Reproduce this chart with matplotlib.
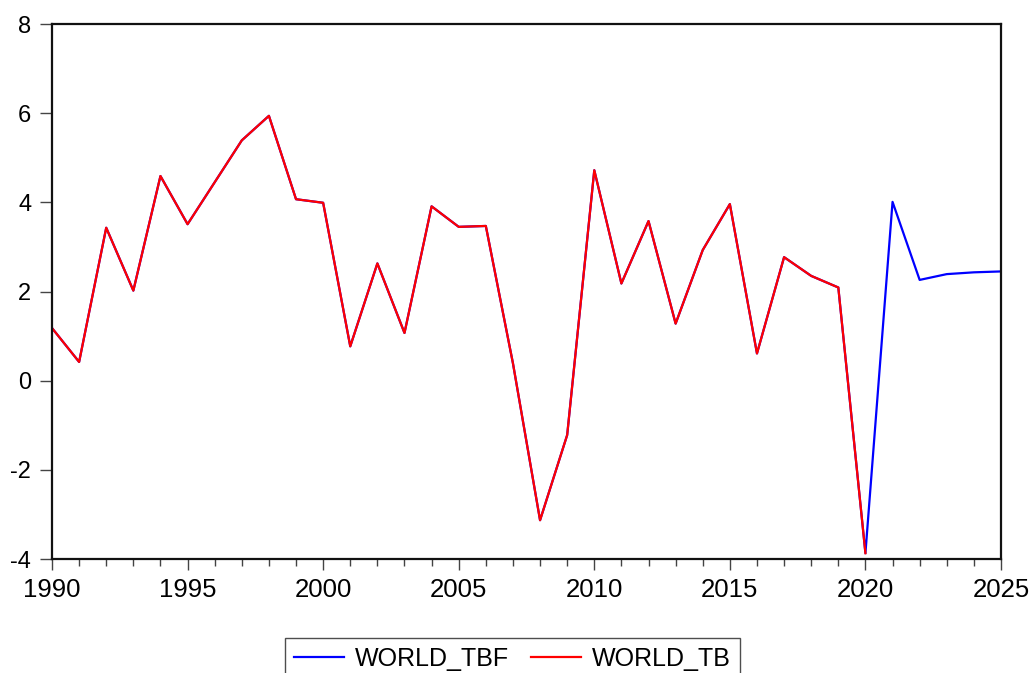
import numpy as np
import matplotlib.pyplot as plt
from matplotlib.ticker import MultipleLocator

plt.rcParams["font.family"] = ["Liberation Sans", "DejaVu Sans"]
plt.rcParams["axes.unicode_minus"] = False

# 실제값 (1990-2020)
years_tb = np.arange(1990, 2021)
world_tb = [1.18, 0.42, 3.43, 2.02, 4.59, 3.51, 4.45, 5.39, 5.94, 4.07,
            3.99, 0.77, 2.63, 1.07, 3.91, 3.45, 3.47, 0.39, -3.13, -1.22,
            4.72, 2.18, 3.58, 1.28, 2.93, 3.96, 0.61, 2.77, 2.35, 2.09,
            -3.87]

# 예측값 (2021-2025)
years_fc = np.arange(2021, 2026)
world_fc = [4.01, 2.26, 2.39, 2.43, 2.45]

years_tbf = np.concatenate([years_tb, years_fc])
world_tbf = world_tb + world_fc

fig = plt.figure(figsize=(10.33, 6.73), dpi=100)
ax = fig.add_axes([52 / 1033, 1 - 559 / 673, 949 / 1033, 535 / 673])

ax.plot(years_tbf, world_tbf, color="#0000ff", linewidth=1.6, label="WORLD_TBF")
ax.plot(years_tb, world_tb, color="#ff0000", linewidth=1.6, label="WORLD_TB")

ax.set_xlim(1990, 2025)
ax.set_ylim(-4, 8)
ax.xaxis.set_major_locator(MultipleLocator(5))
ax.xaxis.set_minor_locator(MultipleLocator(1))
ax.yaxis.set_major_locator(MultipleLocator(2))

for s in ax.spines.values():
    s.set_linewidth(1.6)
    s.set_color("#111111")

ax.tick_params(axis="x", which="major", direction="out", length=8,
               width=1.0, color="#444444", labelsize=18.5, pad=6)
ax.tick_params(axis="x", which="minor", direction="out", length=5,
               width=1.0, color="#444444")
ax.tick_params(axis="y", which="major", direction="out", length=9,
               width=1.0, color="#444444", labelsize=17, pad=6)

leg = fig.legend(loc="upper center", bbox_to_anchor=(512.5 / 1033, 1 - 638 / 673),
                 ncol=2, fontsize=18, frameon=True, fancybox=False,
                 handlelength=2.0, handletextpad=0.45, columnspacing=0.85,
                 borderpad=0.35, borderaxespad=0)
leg.get_frame().set_edgecolor("#222222")
leg.get_frame().set_linewidth(1.0)

fig.savefig("out.png", dpi=100)
